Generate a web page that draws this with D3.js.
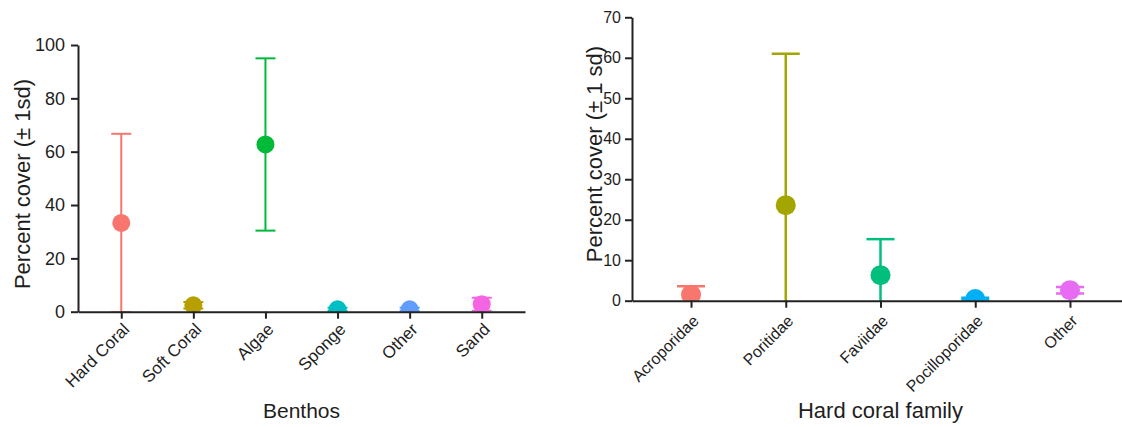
<!DOCTYPE html>
<html>
<head>
<meta charset="utf-8">
<script src="https://cdn.jsdelivr.net/npm/d3@7"></script>
<style>
  body { margin: 0; background: #fff; }
  svg { font-family: "Liberation Sans", Arial, sans-serif; }
  .axis path, .axis line { stroke: #222; stroke-width: 2; }
  .axis text { fill: #1e1e1e; }
</style>
</head>
<body>
<div class="chart"></div>
<script>
var svgWidth = 1122;
var svgHeight = 427;

// left panel: benthos
var benthosCats = ["Hard Coral", "Soft Coral", "Algae", "Sponge", "Other", "Sand"];
var benthosMean = [33.3, 2.4, 62.7, 0.9, 0.9, 2.8];
var benthosSd = [33.4, 1.2, 32.3, 0.6, 0.6, 2.4];
var benthosColors = ["#F8766D", "#B79F00", "#00BA38", "#00BFC4", "#619CFF", "#F564E3"];
var benthosTicks = [0, 20, 40, 60, 80, 100];

// right panel: hard coral family
var familyCats = ["Acroporidae", "Poritidae", "Faviidae", "Pocilloporidae", "Other"];
var familyMean = [1.5, 23.6, 6.3, 0.4, 2.6];
var familySd = [2.1, 37.4, 8.9, 0.3, 0.8];
var familyColors = ["#F8766D", "#A3A500", "#00BF7D", "#00B0F6", "#E76BF3"];
var familyTicks = [0, 10, 20, 30, 40, 50, 60, 70];

var svg = d3.select(".chart")
  .append("svg")
  .attr("width", svgWidth)
  .attr("height", svgHeight);

var defs = svg.append("defs");

function drawPanel(p) {
  var x = d3.scalePoint()
    .domain(p.cats)
    .range(p.xRange)
    .padding(p.pad);

  var y = d3.scaleLinear()
    .domain(p.yDomain)
    .range(p.yRange);

  var rows = p.cats.map(function (c, i) {
    return { cat: c, mean: p.mean[i], sd: p.sd[i], color: p.colors[i] };
  });

  // clip everything below zero
  defs.append("clipPath").attr("id", p.id)
    .append("rect")
    .attr("x", p.xRange[0])
    .attr("y", 0)
    .attr("width", p.xRange[1] - p.xRange[0])
    .attr("height", y(0));

  var g = svg.append("g").attr("clip-path", "url(#" + p.id + ")");

  var bars = g.selectAll(".bar")
    .data(rows)
    .enter()
    .append("g");

  bars.append("line")
    .attr("x1", d => x(d.cat))
    .attr("x2", d => x(d.cat))
    .attr("y1", d => y(d.mean + d.sd))
    .attr("y2", d => y(d.mean - d.sd))
    .attr("stroke", d => d.color)
    .attr("stroke-width", p.lw);

  // caps
  [1, -1].forEach(function (s) {
    bars.append("line")
      .attr("x1", d => x(d.cat) - p.cap / 2)
      .attr("x2", d => x(d.cat) + p.cap / 2)
      .attr("y1", d => y(d.mean + s * d.sd))
      .attr("y2", d => y(d.mean + s * d.sd))
      .attr("stroke", d => d.color)
      .attr("stroke-width", p.lw);
  });

  bars.append("circle")
    .attr("cx", d => x(d.cat))
    .attr("cy", d => y(d.mean))
    .attr("r", p.r)
    .attr("fill", d => d.color);

  // axes
  var xAxis = svg.append("g")
    .attr("class", "axis")
    .attr("transform", `translate(0, ${y(0)})`)
    .call(d3.axisBottom(x).tickSize(7).tickSizeOuter(0));

  xAxis.selectAll("text")
    .attr("font-size", p.xFont)
    .attr("text-anchor", "end")
    .attr("transform", "translate(0," + p.xLabOff + ") rotate(-45)")
    .attr("y", 0)
    .attr("x", 0)
    .attr("dy", "0.72em");

  var yAxis = svg.append("g")
    .attr("class", "axis")
    .attr("transform", `translate(${p.xRange[0]}, 0)`)
    .call(d3.axisLeft(y).tickValues(p.ticks).tickSize(7).tickPadding(p.yPad).tickSizeOuter(0));

  yAxis.selectAll("text").attr("font-size", p.yFont);

  // titles
  svg.append("text")
    .attr("x", (p.xRange[0] + p.xRange[1]) / 2)
    .attr("y", p.xTitleY)
    .attr("text-anchor", "middle")
    .attr("font-size", p.titleFont)
    .attr("fill", "#1e1e1e")
    .text(p.xTitle);

  svg.append("text")
    .attr("transform", `translate(${p.yTitleX}, ${p.yTitleY}) rotate(-90)`)
    .attr("text-anchor", "middle")
    .attr("font-size", p.yTitleFont)
    .attr("fill", "#1e1e1e")
    .text(p.yTitle);
}

drawPanel({
  id: "clipLeft",
  cats: benthosCats, mean: benthosMean, sd: benthosSd, colors: benthosColors,
  ticks: benthosTicks,
  xRange: [78, 525], pad: 0.6,
  yDomain: [0, 100], yRange: [311.7, 45],
  r: 9, cap: 20, lw: 2,
  xFont: 17, yFont: 18, yPad: 6, xLabOff: 10,
  titleFont: 21, yTitleFont: 22,
  xTitle: "Benthos", xTitleY: 418,
  yTitle: "Percent cover (\u00b1 1sd)", yTitleX: 30, yTitleY: 184
});

drawPanel({
  id: "clipRight",
  cats: familyCats, mean: familyMean, sd: familySd, colors: familyColors,
  ticks: familyTicks,
  xRange: [632, 1129], pad: 0.623,
  yDomain: [0, 70], yRange: [300.7, 17.3],
  r: 10, cap: 28, lw: 2.5,
  xFont: 16, yFont: 16, yPad: 4, xLabOff: 13,
  titleFont: 22, yTitleFont: 22,
  xTitle: "Hard coral family", xTitleY: 418,
  yTitle: "Percent cover (\u00b1 1 sd)", yTitleX: 602, yTitleY: 154
});
</script>
</body>
</html>
